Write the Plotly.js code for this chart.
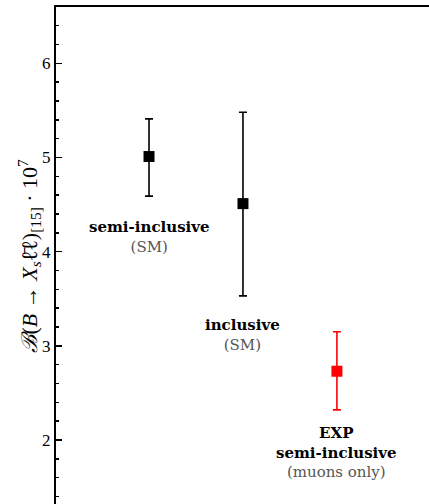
<!DOCTYPE html>
<html>
<head>
<meta charset="utf-8">
<script src="https://cdn.plot.ly/plotly-3.0.1.min.js"></script>
<style>html,body{margin:0;padding:0;background:#fff;}#chart{width:429px;height:504px;}</style>
</head>
<body>
<div id="chart"></div>
<script>
// Data
const categories = ["semi-inclusive (SM)", "inclusive (SM)", "EXP semi-inclusive (muons only)"];
const xPos = [1, 2, 3];
const values = [5.01, 4.51, 2.73];
const errPlus = [0.40, 0.97, 0.42];
const errMinus = [0.42, 0.98, 0.41];
const colors = ["#000000", "#000000", "#ff0000"];
const boldLabels = [["semi-inclusive"], ["inclusive"], ["EXP", "semi-inclusive"]];
const grayLabels = ["(SM)", "(SM)", "(muons only)"];
const labelY = [4.377, 3.336, 2.196];
const yTickVals = [2, 3, 4, 5, 6];
const yTitle = "<i>ℬ</i>(<i>B</i> → <i>X<sub>s</sub></i>ℓ̄ℓ)<sub>[15]</sub> · 10<sup>7</sup>";

const serif = "DejaVu Serif";
const tickSerif = "Liberation Serif";

const traces = xPos.map((x, i) => ({
  type: "scatter",
  mode: "markers",
  x: [x],
  y: [values[i]],
  name: categories[i],
  marker: {symbol: "square", size: 11, color: colors[i]},
  error_y: {
    type: "data", symmetric: false,
    array: [errPlus[i]], arrayminus: [errMinus[i]],
    color: colors[i], thickness: 1.6, width: 4
  },
  showlegend: false,
  hoverinfo: "skip"
}));

const annotations = xPos.map((x, i) => ({
  x: x, y: labelY[i], xref: "x", yref: "y",
  xanchor: "center", yanchor: "top", showarrow: false, align: "center",
  text: boldLabels[i].map(t => "<b>" + t + "</b>").join("<br>") +
        "<br><span style=\"color:#555555\">" + grayLabels[i] + "</span>",
  font: {family: serif, size: 15, color: "#000"}
}));

annotations.push({
  x: -27 / 373, y: 0.5, xref: "paper", yref: "paper",
  xanchor: "center", yanchor: "middle", textangle: -90, showarrow: false,
  text: yTitle,
  font: {family: tickSerif, size: 22, color: "#000"}
});

const layout = {
  width: 429, height: 504,
  margin: {l: 56, r: 0, t: 7, b: 0, pad: 0},
  paper_bgcolor: "#fff", plot_bgcolor: "#fff",
  font: {family: tickSerif, color: "#000"},
  xaxis: {
    range: [0.01, 3.98], side: "top",
    showline: true, linecolor: "#000", linewidth: 2,
    showgrid: false, zeroline: false, ticks: "", showticklabels: false,
    fixedrange: true
  },
  yaxis: {
    range: [1.32, 6.598],
    showline: true, linecolor: "#000", linewidth: 2, mirror: false,
    showgrid: false, zeroline: false,
    ticks: "inside", ticklen: 6, tickwidth: 1.5, tickcolor: "#000",
    tickvals: yTickVals, ticktext: yTickVals.map(String),
    minor: {ticks: "inside", ticklen: 3, tickwidth: 1.5, tickcolor: "#000", dtick: 0.2},
    tickfont: {family: tickSerif, size: 17, color: "#000"},
    automargin: false,
    fixedrange: true
  },
  annotations: annotations
};

Plotly.newPlot("chart", traces, layout, {displayModeBar: false, staticPlot: true});
</script>
</body>
</html>
